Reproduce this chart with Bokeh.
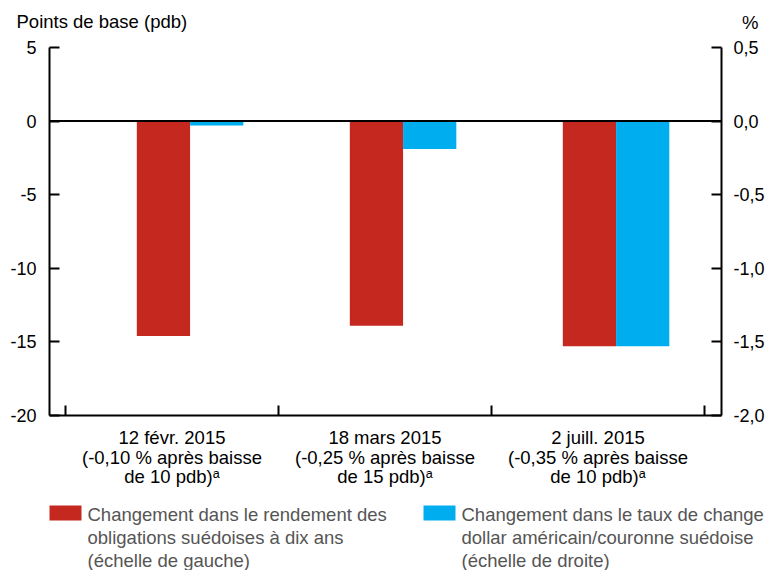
from bokeh.plotting import figure
from bokeh.layouts import column
from bokeh.models import Range1d, LinearAxis, FixedTicker, Span, ColumnDataSource
from bokeh.transform import dodge
from bokeh.core.properties import value
from bokeh.embed import file_html
from bokeh.resources import INLINE

# ---- data ----
categories = ["12 févr. 2015", "18 mars 2015", "2 juill. 2015"]
cat_line2 = ["(-0,10 % après baisse", "(-0,25 % après baisse", "(-0,35 % après baisse"]
cat_line3 = ["de 10 pdb)ᵃ", "de 15 pdb)ᵃ", "de 10 pdb)ᵃ"]
bond_yield_bp = [-14.6, -13.9, -15.3]        # left scale, points de base
fx_change_pct = [-0.03, -0.19, -1.53]        # right scale, %
left_ticks = [5, 0, -5, -10, -15, -20]
left_tick_labels = ["5", "0", "-5", "-10", "-15", "-20"]
right_ticks = [0.5, 0.0, -0.5, -1.0, -1.5, -2.0]
right_tick_labels = ["0,5", "0,0", "-0,5", "-1,0", "-1,5", "-2,0"]
left_title = "Points de base (pdb)"
right_title = "%"
legend_red = ["Changement dans le rendement des", "obligations suédoises à dix ans", "(échelle de gauche)"]
legend_blue = ["Changement dans le taux de change", "dollar américain/couronne suédoise", "(échelle de droite)"]

RED = "#C4281F"
BLUE = "#00AEEF"
FONT = value("Liberation Sans")
FS = value("18.5px")

W = 768
HEAD_H, MAIN_H, FOOT_H = 32, 395, 143
ML, MR = 49, 47
MT, MB = 15, 12
X0, X1 = -0.575, 2.58
frame_w = W - ML - MR
pxu = frame_w / (X1 - X0)
FOOT_TOP = HEAD_H + MAIN_H


def px2x(px):  # page x pixel -> data x of the shared horizontal scale
    return X0 + (px - ML) / pxu


def bare(fig):
    fig.grid.visible = False
    fig.outline_line_color = None
    return fig


# ---- header with axis titles ----
head = bare(figure(width=W, height=HEAD_H, output_backend="svg", toolbar_location=None,
                   x_range=Range1d(0, W), y_range=Range1d(HEAD_H, 0),
                   x_axis_location=None, y_axis_location=None,
                   min_border=0, min_border_left=0, min_border_right=0,
                   min_border_top=0, min_border_bottom=0, frame_align=False))
head.text(x=[16], y=[21], text=[left_title], text_font=FONT, text_font_size=FS,
          text_color="black", text_baseline="alphabetic", text_align="left")
head.text(x=[758], y=[22], text=[right_title], text_font=FONT, text_font_size=FS,
          text_color="black", text_baseline="alphabetic", text_align="right")

# ---- main chart ----
p = bare(figure(width=W, height=MAIN_H, output_backend="svg", toolbar_location=None,
                x_range=Range1d(X0, X1), y_range=Range1d(-20, 5),
                min_border_left=ML, min_border_right=MR,
                min_border_top=MT, min_border_bottom=MB, frame_align=False))
p.extra_y_ranges = {"pct": Range1d(-2.0, 0.5)}

src = ColumnDataSource(dict(x=[0, 1, 2], bond=bond_yield_bp, fx=fx_change_pct))
p.vbar(x=dodge("x", -0.04), top="bond", bottom=0, width=0.25, source=src,
       fill_color=RED, line_color=None)
p.vbar(x=dodge("x", 0.21), top="fx", bottom=0, width=0.25, source=src,
       fill_color=BLUE, line_color=None, y_range_name="pct")
p.add_layout(Span(location=0, dimension="width", line_color="black", line_width=2))


def style_axis(ax):
    ax.axis_line_color = "black"
    ax.axis_line_width = 2
    ax.major_tick_line_color = "black"
    ax.major_tick_line_width = 2
    ax.major_tick_in = 10
    ax.major_tick_out = 0
    ax.minor_tick_line_color = None
    ax.major_label_text_font = "Liberation Sans"
    ax.major_label_text_font_size = "18px"
    ax.major_label_text_color = "black"


ya = p.yaxis[0]
ya.ticker = FixedTicker(ticks=left_ticks)
ya.major_label_overrides = {t: s for t, s in zip(left_ticks, left_tick_labels)}
style_axis(ya)
ya.major_label_standoff = 13

ra = LinearAxis(y_range_name="pct", ticker=FixedTicker(ticks=right_ticks))
ra.major_label_overrides = {t: s for t, s in zip(right_ticks, right_tick_labels)}
style_axis(ra)
ra.major_label_standoff = 12
p.add_layout(ra, "right")

# bottom axis: unlabeled ticks at the category boundaries (minor ticks => no labels)
xa = p.xaxis[0]
xa.ticker = FixedTicker(ticks=[], minor_ticks=[-0.5, 0.5, 1.5, 2.5])
style_axis(xa)
xa.minor_tick_line_color = "black"
xa.minor_tick_line_width = 2
xa.minor_tick_in = 10
xa.minor_tick_out = 0
xa.major_label_standoff = 0

# ---- footer: category labels + legend (y = pixels below the footer top) ----
foot = bare(figure(width=W, height=FOOT_H, output_backend="svg", toolbar_location=None,
                   x_range=Range1d(px2x(0), px2x(W)), y_range=Range1d(FOOT_H, 0),
                   x_axis_location=None, y_axis_location=None,
                   min_border=0, min_border_left=0, min_border_right=0,
                   min_border_top=0, min_border_bottom=0, frame_align=False))

cx, cy, ct = [], [], []
for i in range(len(categories)):
    for line, yy in zip([categories[i], cat_line2[i], cat_line3[i]], [437, 456.5, 476]):
        cx.append(i)
        cy.append(yy - FOOT_TOP)
        ct.append(line)
foot.text(x=cx, y=cy, text=ct, text_font=FONT, text_font_size=FS, text_color="black",
          text_align="center", text_baseline="alphabetic")

for sx, lines, col in [(49, legend_red, RED), (423, legend_blue, BLUE)]:
    foot.quad(left=[px2x(sx)], right=[px2x(sx + 32)], top=[505 - FOOT_TOP],
              bottom=[520 - FOOT_TOP], fill_color=col, line_color=None)
    foot.text(x=[px2x(sx + 38)] * 3, y=[b - FOOT_TOP for b in (514, 537, 560)],
              text=lines, text_font=FONT, text_font_size=FS, text_color="#555555",
              text_align="left", text_baseline="alphabetic")

layout = column(head, p, foot, spacing=0)
open("out.html", "w").write(file_html(layout, INLINE))
